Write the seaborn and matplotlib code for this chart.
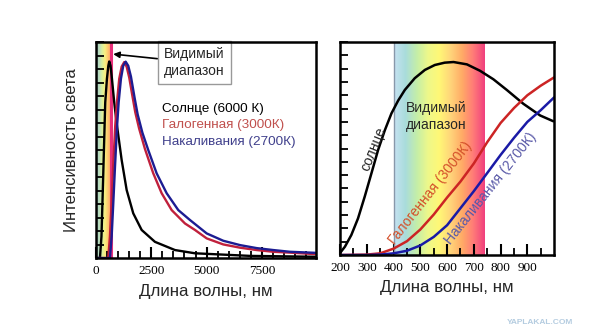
import numpy as np
import pandas as pd
import seaborn as sns
import matplotlib.pyplot as plt
from matplotlib.colors import LinearSegmentedColormap

# ---------------- data ----------------
# left panel: full range, wavelength (nm) vs relative intensity
sun_wl = [0, 181, 250, 320, 420, 497, 560, 601, 660, 723, 827, 936, 1008, 1162, 1388,
          1686, 2066, 2667, 3572, 4476, 6962, 9946]
sun_v = [0, 0, 0.10, 0.35, 0.72, 0.83, 0.89, 0.91, 0.89, 0.83, 0.72, 0.625, 0.57,
         0.454, 0.315, 0.207, 0.13, 0.075, 0.037, 0.022, 0.010, 0.006]

hal_wl = [0, 300, 556, 633, 710, 782, 873, 949, 1053, 1162, 1279, 1390, 1505, 1614,
          1777, 1950, 2215, 2591, 2970, 3422, 4024, 4476, 5005, 5755, 6510, 7265,
          8016, 8771, 9946]
hal_v = [0, 0, 0, 0.10, 0.26, 0.43, 0.614, 0.72, 0.83, 0.886, 0.907, 0.885, 0.835,
         0.77, 0.675, 0.60, 0.505, 0.392, 0.30, 0.222, 0.16, 0.13, 0.091, 0.063,
         0.048, 0.037, 0.029, 0.025, 0.018]

inc_wl = [0, 300, 633, 710, 782, 860, 949, 1026, 1130, 1234, 1343, 1460, 1582, 1750,
          1885, 2100, 2364, 2744, 3196, 3721, 4250, 5005, 5755, 6510, 7265, 8016,
          8771, 9946]
inc_v = [0, 0, 0, 0.10, 0.25, 0.42, 0.60, 0.72, 0.83, 0.89, 0.909, 0.89, 0.84, 0.74,
         0.665, 0.58, 0.50, 0.392, 0.30, 0.222, 0.176, 0.114, 0.08, 0.06, 0.046,
         0.037, 0.029, 0.024]

# right panel: 200-1000 nm
sun2_wl = [200, 218, 242, 267, 292, 317, 342, 367, 392, 417, 442, 479, 517, 554, 591,
           624, 674, 723, 773, 823, 885, 948, 997]
sun2_v = [0.01, 0.039, 0.094, 0.172, 0.274, 0.383, 0.493, 0.585, 0.665, 0.725, 0.775,
          0.83, 0.869, 0.892, 0.903, 0.906, 0.895, 0.865, 0.825, 0.775, 0.71, 0.655,
          0.628]

zoom_wl = [200, 300, 350, 400, 450, 500, 550, 600, 650, 700, 750, 800, 850, 900, 950, 1000]
hal2_v = [0, 0.002, 0.008, 0.03, 0.065, 0.12, 0.19, 0.27, 0.345, 0.43, 0.53, 0.62,
          0.69, 0.75, 0.795, 0.834]
inc2_v = [0, 0, 0.002, 0.008, 0.02, 0.045, 0.085, 0.14, 0.22, 0.30, 0.385, 0.47,
          0.55, 0.625, 0.68, 0.74]

series_names = ["Солнце (6000 К)", "Галогенная (3000К)", "Накаливания (2700К)"]
visible_band = [400, 740]
left_xticks = [0, 2500, 5000, 7500]
right_xticks = [200, 300, 400, 500, 600, 700, 800, 900]

# ---------------- styling ----------------
sns.set_theme(style="white")
plt.rcParams['font.family'] = ['Liberation Sans', 'DejaVu Sans']

left_df = pd.concat([
    pd.DataFrame({"wl": sun_wl, "v": sun_v, "s": series_names[0]}),
    pd.DataFrame({"wl": hal_wl, "v": hal_v, "s": series_names[1]}),
    pd.DataFrame({"wl": inc_wl, "v": inc_v, "s": series_names[2]}),
])
right_df = pd.concat([
    pd.DataFrame({"wl": sun2_wl, "v": sun2_v, "s": series_names[0]}),
    pd.DataFrame({"wl": zoom_wl, "v": hal2_v, "s": series_names[1]}),
    pd.DataFrame({"wl": zoom_wl, "v": inc2_v, "s": series_names[2]}),
])

left_pal = {series_names[0]: "#000000", series_names[1]: "#c0203c", series_names[2]: "#1c1c92"}
right_pal = {series_names[0]: "#000000", series_names[1]: "#cc2424", series_names[2]: "#1a1aa6"}

spec_cmap = LinearSegmentedColormap.from_list(
    "spec", ['#c6e2f2', '#a9dcdc', '#c4eea8', '#eef88a', '#fff776', '#ffd47a',
             '#ffab66', '#ff7a78', '#f0407e'])
left_cmap = LinearSegmentedColormap.from_list(
    "spec2", ['#a8cbc6', '#b8dcc0', '#d8f0a0', '#f8f080', '#ffc870', '#ff9a6a'])

fig = plt.figure(figsize=(6.15, 3.36), dpi=100)
ax1 = fig.add_axes([0.156, 0.232, 0.358, 0.643])
ax2 = fig.add_axes([0.553, 0.241, 0.348, 0.634])

grad = np.linspace(0, 1, 256)[None, :]

# ---- left panel ----
ax1.imshow(grad, extent=[0, 650, 0, 1], aspect='auto', cmap=left_cmap, zorder=0)
ax1.axvline(665, color='#e8307a', lw=2.2, zorder=1)
sns.lineplot(data=left_df, x="wl", y="v", hue="s", palette=left_pal, sort=False,
             estimator=None, legend=False, lw=1.7, ax=ax1, zorder=3)
ax1.set_xlim(0, 9950)
ax1.set_ylim(0, 1)
ax1.set_xticks(left_xticks, [str(t) for t in left_xticks])
ax1.set_xticks(np.arange(0, 9950, 500), minor=True)
ax1.set_yticks(np.arange(0, 1.0001, 1 / 16))
ax1.set_yticklabels([])
ax1.set_xlabel("Длина волны, нм", fontsize=12.2, labelpad=5)
ax1.set_ylabel("Интенсивность света", fontsize=12, labelpad=9)

ax1.annotate("Видимый\nдиапазон", xy=(780, 0.944), xytext=(4450, 0.905),
             ha='center', va='center', fontsize=10,
             bbox=dict(boxstyle='square,pad=0.45', fc='white', ec='#999999', lw=1),
             arrowprops=dict(arrowstyle='-|>', color='black', lw=1.2,
                             mutation_scale=9, shrinkA=0, shrinkB=0), zorder=5)

leg_y = [0.69, 0.616, 0.537]
leg_c = ["#000000", "#c0504d", "#40408c"]
for name, yy, cc in zip(series_names, leg_y, leg_c):
    ax1.text(2984, yy, name, color=cc, fontsize=9.7, ha='left', va='center')

# ---- right panel ----
ax2.imshow(grad, extent=[visible_band[0], visible_band[1], 0, 1], aspect='auto',
           cmap=spec_cmap, zorder=0)
ax2.axvline(visible_band[0], color='#8898aa', lw=1, zorder=1)
sns.lineplot(data=right_df, x="wl", y="v", hue="s", palette=right_pal, sort=False,
             estimator=None, legend=False, lw=1.8, ax=ax2, zorder=3)
ax2.set_xlim(200, 1000)
ax2.set_ylim(0, 1)
ax2.set_xticks(right_xticks, [str(t) for t in right_xticks])
ax2.set_xticks(np.arange(200, 1000, 50), minor=True)
ax2.set_yticks(np.arange(0, 1.0001, 1 / 16))
ax2.set_yticklabels([])
ax2.set_xlabel("Длина волны, нм", fontsize=12.2, labelpad=4)
ax2.set_ylabel("")

ax2.text(325, 0.50, "солнце", rotation=68, fontsize=10, ha='center', va='center')
ax2.text(560, 0.65, "Видимый\nдиапазон", fontsize=10, ha='center', va='center',
         linespacing=1.3)
ax2.text(539, 0.29, "Галогенная (3000К)", rotation=52, fontsize=10, color='#d4502a',
         ha='center', va='center')
ax2.text(763, 0.313, "Накаливания (2700К)", rotation=51.5, fontsize=10,
         color='#5a5aa8', ha='center', va='center')

for ax in (ax1, ax2):
    for sp in ax.spines.values():
        sp.set_color('black')
        sp.set_linewidth(1.8)
        sp.set_zorder(6)
    ax.tick_params(axis='x', which='major', direction='in', length=8, width=1.5,
                   colors='black', pad=5, labelsize=9.5, bottom=True,
                   labelfontfamily='Liberation Serif')
    ax.tick_params(axis='x', which='minor', direction='in', length=5, width=1.3,
                   colors='black', bottom=True)
    ax.tick_params(axis='y', which='major', direction='in', length=6, width=1.3,
                   colors='black', left=True)

fig.text(0.878, 0.04, "YAPLAKAL.COM", color='#b4cce0', fontsize=6,
         fontweight='bold', ha='center', va='center')

fig.savefig("out.png", dpi=100, facecolor='white')
